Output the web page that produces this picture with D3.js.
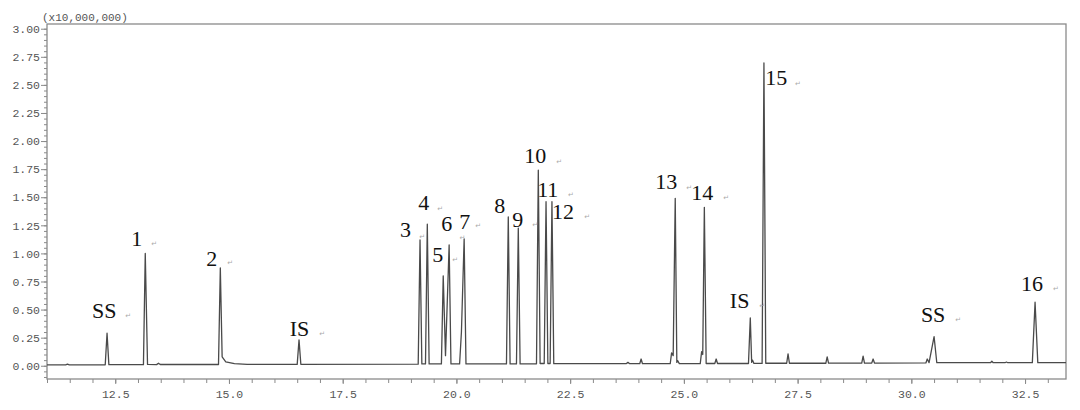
<!DOCTYPE html>
<html><head><meta charset="utf-8">
<script src="https://cdn.jsdelivr.net/npm/d3@7"></script>
<style>body{margin:0;background:#fff}</style>
</head><body>
<svg id="chart" width="1080" height="410"></svg>
<script>
// Chromatogram trace vertices (retention time in min, signal in x10,000,000)
const traceTime = [
  11.00, 11.41, 11.45, 11.49,
  12.28, 12.32, 12.36,
  13.12, 13.16, 13.21, 13.41, 13.45, 13.49,
  14.77, 14.81, 14.85, 14.93, 15.12, 15.40,
  16.50, 16.54, 16.58,
  19.16, 19.20, 19.24, 19.32, 19.36, 19.40,
  19.67, 19.71, 19.76, 19.84, 19.88,
  20.07, 20.11, 20.17, 20.21,
  21.10, 21.14, 21.18, 21.32, 21.36, 21.40,
  21.76, 21.80, 21.84, 21.93, 21.97, 22.01, 22.06, 22.10, 22.14,
  23.73, 23.77, 23.81, 24.03, 24.06, 24.09,
  24.70, 24.73, 24.765, 24.81, 24.845, 24.865, 24.90,
  25.36, 25.39, 25.415, 25.45, 25.49,
  25.68, 25.71, 25.74,
  26.42, 26.46, 26.49, 26.51, 26.54,
  26.72, 26.76, 26.80,
  27.26, 27.29, 27.32,
  28.12, 28.15, 28.18,
  28.91, 28.94, 28.97, 29.13, 29.16, 29.19,
  30.32, 30.35, 30.39, 30.50, 30.56,
  31.74, 31.77, 31.80, 32.06, 32.09, 32.12,
  32.66, 32.72, 32.78,
  33.40
];
const traceSignal = [
  0.008, 0.008, 0.014, 0.008,
  0.009, 0.290, 0.010,
  0.010, 1.000, 0.012, 0.010, 0.022, 0.011,
  0.011, 0.870, 0.080, 0.035, 0.018, 0.012,
  0.012, 0.230, 0.013,
  0.014, 1.120, 0.016, 0.016, 1.260, 0.016,
  0.016, 0.800, 0.090, 1.075, 0.016,
  0.016, 0.300, 1.130, 0.016,
  0.016, 1.325, 0.016, 0.016, 1.225, 0.016,
  0.017, 1.740, 0.020, 0.020, 1.460, 0.020, 0.020, 1.460, 0.018,
  0.018, 0.030, 0.018, 0.018, 0.060, 0.018,
  0.018, 0.115, 0.090, 1.490, 0.030, 0.045, 0.019,
  0.019, 0.125, 0.100, 1.410, 0.020,
  0.020, 0.060, 0.020,
  0.020, 0.425, 0.030, 0.050, 0.021,
  0.021, 2.695, 0.022,
  0.022, 0.105, 0.022,
  0.022, 0.078, 0.023,
  0.023, 0.085, 0.024, 0.024, 0.060, 0.024,
  0.025, 0.060, 0.028, 0.260, 0.027,
  0.027, 0.040, 0.027, 0.027, 0.033, 0.027,
  0.028, 0.565, 0.028,
  0.028
];

// Axis ticks
const yMajorTicks = [0, 0.25, 0.5, 0.75, 1.0, 1.25, 1.5, 1.75, 2.0, 2.25, 2.5, 2.75, 3.0];
const yMinorTicks = d3.range(-10, 301, 5).map(d => d / 100);
const xMajorTicks = [12.5, 15.0, 17.5, 20.0, 22.5, 25.0, 27.5, 30.0, 32.5];
const xMinorTicks = d3.range(22, 67).map(d => d / 2);
const yUnitLabel = "(x10,000,000)";

// Peak labels (left edge time, baseline value)
const peakLabels = ["SS", "1", "2", "IS", "3", "4", "5", "6", "7", "8", "9", "10", "11", "12", "13", "14", "IS", "15", "SS", "16"];
const labelTime  = [11.99, 12.85, 14.50, 16.335, 18.76, 19.16, 19.47, 19.665, 20.06, 20.83, 21.225, 21.49, 21.775, 22.10, 24.37, 25.16, 26.01, 26.79, 30.21, 32.41];
const labelValue = [0.425, 1.066, 0.888, 0.264, 1.146, 1.386, 0.923, 1.200, 1.218, 1.360, 1.235, 1.805, 1.500, 1.306, 1.573, 1.476, 0.514, 2.500, 0.389, 0.665];

// Paragraph marks next to labels
const markTime  = [12.786, 13.357, 15.027, 17.05, 19.247, 19.643, 19.973, 20.135, 20.478, 21.73, 22.258, 22.52, 22.874, 25.115, 25.93, 26.72, 27.51, 31.03, 33.18];
const markValue = [0.451, 1.093, 0.923, 0.291, 1.155, 1.404, 0.950, 1.150, 1.253, 1.262, 1.823, 1.529, 1.333, 1.591, 1.502, 0.541, 2.518, 0.416, 0.692];

(function () {
const svg = d3.select("#chart");
svg.append("rect").attr("width", 1080).attr("height", 410).attr("fill", "#fff");

const mLeft = 47, mRight = 1066, mTop = 24, mBottom = 379;
const x = d3.scaleLinear().domain([11.0, 33.4]).range([mLeft, mRight]);
const y = d3.scaleLinear().domain([-0.118, 3.042]).range([mBottom, mTop]);

const tickFont = "'Liberation Mono', 'DejaVu Sans Mono', monospace";
const axisColor = "#8a8a8a";
const textColor = "#555";

const gyMin = svg.append("g").attr("transform", `translate(${mLeft},0)`)
  .call(d3.axisLeft(y).tickValues(yMinorTicks).tickSize(3).tickFormat(""));
gyMin.select(".domain").remove();
gyMin.selectAll("line").attr("stroke", axisColor);
const gy = svg.append("g").attr("transform", `translate(${mLeft},0)`)
  .call(d3.axisLeft(y).tickValues(yMajorTicks).tickSize(6).tickPadding(1).tickFormat(d3.format(".2f")));
gy.select(".domain").remove();
gy.selectAll("line").attr("stroke", axisColor);
gy.selectAll("text").attr("font-family", tickFont).attr("font-size", 11.5).attr("fill", textColor);

const gxMin = svg.append("g").attr("transform", `translate(0,${mBottom})`)
  .call(d3.axisBottom(x).tickValues(xMinorTicks).tickSize(4).tickFormat(""));
gxMin.select(".domain").remove();
gxMin.selectAll("line").attr("stroke", axisColor);
const gx = svg.append("g").attr("transform", `translate(0,${mBottom})`)
  .call(d3.axisBottom(x).tickValues(xMajorTicks).tickSize(5).tickPadding(6).tickFormat(d3.format(".1f")));
gx.select(".domain").remove();
gx.selectAll("line").attr("stroke", axisColor);
gx.selectAll("text").attr("font-family", tickFont).attr("font-size", 11.5).attr("fill", textColor);

svg.append("rect").attr("x", mLeft).attr("y", mTop).attr("width", mRight - mLeft).attr("height", mBottom - mTop)
  .attr("fill", "none").attr("stroke", axisColor).attr("stroke-width", 1.3);

svg.append("text").attr("x", mLeft - 5).attr("y", mTop - 3)
  .attr("font-family", tickFont).attr("font-size", 11).attr("fill", textColor).text(yUnitLabel);

const pts = traceTime.map((t, i) => [t, traceSignal[i]]);
const line = d3.line().x(d => x(d[0])).y(d => y(d[1]));
svg.append("path").datum(pts).attr("d", line)
  .attr("fill", "none").attr("stroke", "#4a4a4a").attr("stroke-width", 1.3).attr("stroke-linejoin", "round");

svg.append("g").selectAll("text").data(peakLabels).join("text")
  .attr("x", (d, i) => x(labelTime[i])).attr("y", (d, i) => y(labelValue[i]))
  .attr("font-family", "'Liberation Serif', 'Times New Roman', serif").attr("font-size", 22)
  .attr("fill", "#111").text(d => d);

svg.append("g").selectAll("text").data(markTime).join("text")
  .attr("x", d => x(d)).attr("y", (d, i) => y(markValue[i]) + 3)
  .attr("text-anchor", "middle")
  .attr("font-family", "'DejaVu Sans', sans-serif").attr("font-size", 7)
  .attr("fill", "#aaa").text("\u21B5");
})();
</script>
</body></html>
